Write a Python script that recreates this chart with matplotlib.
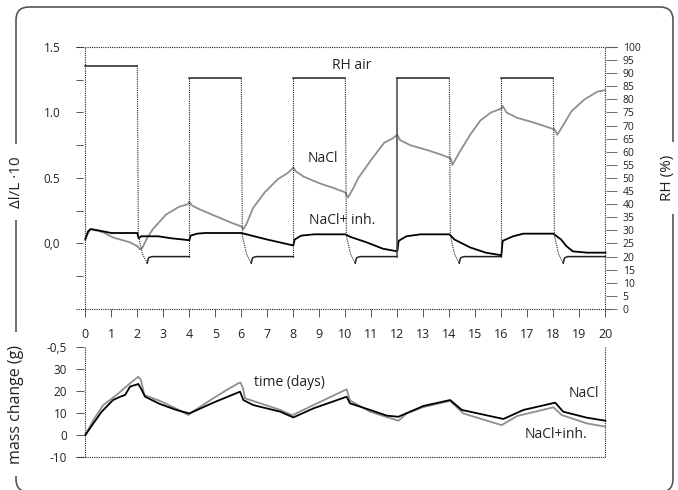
import matplotlib.pyplot as plt
import matplotlib.patches as mpatches
from matplotlib.transforms import IdentityTransform

plt.rcParams['font.family'] = ['Open Sans', 'DejaVu Sans']

# RH air: square wave (days / % RH)
high_start = [0, 4, 8, 12, 16]
high_end = [2, 6, 10, 14, 18]
high_rh = [92.9, 88, 88, 88, 88]
low_rh = 20
up_solid = [False, False, True, False]      # the step at day 12 is drawn solid
drop_dt = [0, 0.04, 0.2, 0.38]              # undershoot after switching to dry air
drop_rh_tail = [28, 21, 17.5]
rec_dt = [0.38, 0.43, 0.55]
rec_rh = [17.5, 19.5, 20]

# dilatation (dl/L * 10), grey = NaCl
nacl_days = [0, 0.2, 0.5, 0.7, 1.08, 1.7, 2.0, 2.1, 2.2, 2.4, 2.6, 3.1, 3.6, 3.95, 4.0,
             4.1, 4.4, 5.0, 5.6, 6.0, 6.08, 6.2, 6.45, 6.9, 7.4, 7.8, 8.0, 8.1, 8.4, 9.0,
             9.6, 10.0, 10.1, 10.3, 10.5, 11.0, 11.5, 11.8, 12.0, 12.1, 12.5, 13.2, 13.8,
             14.05, 14.12, 14.4, 14.8, 15.2, 15.6, 16.0, 16.05, 16.2, 16.6, 17.3, 17.9,
             18.05, 18.15, 18.4, 18.7, 19.2, 19.7, 20.0]
nacl_strain = [0.04, 0.11, 0.095, 0.084, 0.045, 0.01, -0.02, -0.045, -0.03, 0.05, 0.11,
               0.22, 0.28, 0.30, 0.32, 0.29, 0.26, 0.21, 0.16, 0.13, 0.11, 0.15, 0.27, 0.39,
               0.49, 0.54, 0.58, 0.55, 0.51, 0.46, 0.42, 0.39, 0.35, 0.42, 0.50, 0.64, 0.77,
               0.80, 0.83, 0.79, 0.75, 0.71, 0.67, 0.65, 0.60, 0.70, 0.83, 0.94, 1.00, 1.03,
               1.05, 1.00, 0.96, 0.92, 0.88, 0.87, 0.83, 0.91, 1.01, 1.10, 1.16, 1.17]

# black = NaCl + inhibitor
inh_days = [0, 0.1, 0.2, 0.5, 1.0, 2.0, 2.05, 2.15, 2.8, 3.3, 4.0, 4.05, 4.3, 4.6, 6.0,
            6.2, 7.0, 8.0, 8.05, 8.3, 8.8, 10.0, 10.2, 10.8, 11.45, 12.0, 12.05, 12.35,
            12.9, 14.0, 14.2, 14.8, 15.4, 16.0, 16.05, 16.45, 16.85, 18.0, 18.3, 18.5,
            18.75, 19.3, 20.0]
inh_strain = [0.03, 0.09, 0.11, 0.10, 0.08, 0.08, 0.04, 0.055, 0.055, 0.04, 0.025, 0.06,
              0.075, 0.08, 0.08, 0.07, 0.03, -0.015, 0.03, 0.06, 0.07, 0.07, 0.05, 0.01,
              -0.04, -0.06, 0.02, 0.055, 0.07, 0.07, 0.03, -0.03, -0.07, -0.09, 0.02, 0.055,
              0.075, 0.075, 0.03, -0.02, -0.06, -0.07, -0.07]

# mass change (g)
mass_days_a = [0, 0.31, 0.63, 0.95, 1.07, 1.34, 1.53, 1.72, 2.04, 2.17, 2.3, 2.87, 3.5, 4.0,
               4.92, 5.95, 6.08, 6.46, 7.5, 8.0, 8.77, 10.05, 10.18, 10.95, 11.6, 12.04,
               13.0, 14.03, 14.48, 16.08, 16.85, 18.07, 18.38, 19.28, 20]
mass_nacl = [0, 5.3, 10.6, 14.5, 15.9, 17.4, 18.2, 22, 23.2, 20.5, 17.4, 14.1, 11.4, 9.8,
             14.7, 19.7, 15.9, 13.6, 10.6, 8.0, 12.1, 17.4, 14.4, 11.4, 8.8, 8.3, 13.2,
             15.9, 11.4, 7.3, 11.4, 14.7, 10.6, 7.9, 6.5]
mass_days_b = [0, 0.31, 0.69, 1.2, 1.72, 2.04, 2.14, 2.27, 2.87, 3.5, 3.96, 4.05, 4.92, 5.44,
               5.88, 5.97, 6.07, 6.14, 7.5, 7.96, 8.77, 10.0, 10.05, 10.18, 10.95, 12.04,
               12.36, 13.0, 14.03, 14.54, 16.01, 16.6, 18.0, 18.32, 19.28, 20]
mass_inh = [0, 6.8, 13.6, 18.2, 23.5, 26.5, 25, 18.2, 15.5, 12, 9.1, 10, 16.7, 20.5, 23.5,
            23.8, 21, 16.7, 11.4, 9, 13.6, 20.5, 20.8, 15.7, 10.6, 6.5, 9.8, 12.7, 15.5,
            9.8, 4.5, 8.6, 12.6, 9.1, 5.3, 3.8]

day_ticks = list(range(0, 21))
strain_ticks = [-0.25, 0, 0.25, 0.5, 0.75, 1.0, 1.25, 1.5]
strain_labels = ['', '0,0', '', '0.5', '', '1.0', '', '1.5']
rh_ticks = list(range(0, 101, 5))
mass_ticks = [-10, 0, 10, 20, 30, 40]
mass_labels = ['-10', '0', '10', '20', '30', '-0,5']

grey = '#8f8f8f'
txt = '#222222'
dot = dict(color='#222222', lw=0.8, ls=(0, (1, 1)), clip_on=False)
xmin, xmax = -0.35, 20.45

fig = plt.figure(figsize=(6.78, 4.90), dpi=100)

# rounded frame round the whole figure
frame = mpatches.FancyBboxPatch((16, -2), 657, 485, boxstyle='round,pad=0,rounding_size=13',
                                transform=IdentityTransform(), fill=False,
                                edgecolor='#555555', lw=1.2, zorder=1)
fig.add_artist(frame)

# ---- top panel ----
ax1 = fig.add_axes([0.1124, 0.3694, 0.7977, 0.5347])
ax1.set_xlim(xmin, xmax)
ax1.set_ylim(-0.5, 1.5)
for s in ax1.spines.values():
    s.set_visible(False)
ax1.plot([xmin, xmax], [1.5, 1.5], **dot)
ax1.plot([xmin, 20.35], [-0.5, -0.5], **dot)
ax1.plot([0, 0], [-0.5, 1.5], **dot)
ax1.plot([20, 20], [-0.5, 1.5], **dot)

ax1.plot(nacl_days, nacl_strain, color=grey, lw=1.3, zorder=4)
ax1.plot(inh_days, inh_strain, color='black', lw=1.3, zorder=4)

ax1.set_xticks(day_ticks)
ax1.set_xticklabels([str(d) for d in day_ticks])
ax1.tick_params(axis='x', length=6, width=0.7, color='#555555', pad=8,
                labelsize=9, labelcolor=txt)
ax1.set_yticks(strain_ticks)
ax1.set_yticklabels(strain_labels)
ax1.tick_params(axis='y', direction='in', length=5, width=0.7, color='#555555', pad=11.5,
                labelsize=8.5, labelcolor=txt)

ax2 = ax1.twinx()
ax2.set_ylim(0, 100)
for s in ax2.spines.values():
    s.set_visible(False)
ax2.set_yticks(rh_ticks)
ax2.tick_params(axis='y', direction='in', length=8, width=0.6, color='#555555', pad=4,
                labelsize=7.5, labelcolor=txt)

for i in range(len(high_start)):
    ax2.plot([high_start[i], high_end[i]], [high_rh[i], high_rh[i]], color='#222222', lw=1.1)
    t0 = high_end[i]
    ax2.plot([t0 + d for d in drop_dt], [high_rh[i]] + drop_rh_tail, **dot)
    nxt = high_start[i + 1] if i + 1 < len(high_start) else 20
    ax2.plot([t0 + d for d in rec_dt] + [nxt], rec_rh + [low_rh], color='#222222', lw=1.1)
    if i + 1 < len(high_start):
        if up_solid[i]:
            ax2.plot([nxt, nxt], [low_rh, high_rh[i + 1]], color='#444444', lw=1.1)
        else:
            ax2.plot([nxt, nxt], [low_rh, high_rh[i + 1]], **dot)

ax1.text(10.26, 1.36, 'RH air', ha='center', va='center', fontsize=10, color=txt)
ax1.text(9.12, 0.65, 'NaCl', ha='center', va='center', fontsize=10, color=txt)
ax1.text(9.86, 0.175, 'NaCl+ inh.', ha='center', va='center', fontsize=10, color=txt)

# ---- bottom panel ----
ax3 = fig.add_axes([0.1124, 0.0673, 0.7977, 0.2245])
ax3.set_xlim(xmin, xmax)
ax3.set_ylim(-10, 40)
for s in ax3.spines.values():
    s.set_visible(False)
ax3.plot([xmin, 20], [-10, -10], **dot)
ax3.plot([0, 0], [-10, 40], **dot)
ax3.plot([20, 20], [-10, 40], **dot)
ax3.plot(mass_days_b, mass_inh, color=grey, lw=1.3)
ax3.plot(mass_days_a, mass_nacl, color='black', lw=1.3)
ax3.set_xticks([])
ax3.set_yticks(mass_ticks)
ax3.set_yticklabels(mass_labels)
ax3.tick_params(axis='y', direction='in', length=6, width=0.7, color='#555555', pad=6.5,
                labelsize=8.5, labelcolor=txt)

ax3.text(7.86, 24, 'time (days)', ha='center', va='center', fontsize=10, color=txt)
ax3.text(19.76, 19.1, 'NaCl', ha='right', va='center', fontsize=10, color=txt)
ax3.text(18.1, 0.45, 'NaCl+inh.', ha='center', va='center', fontsize=10, color=txt)

# axis titles sitting in the frame line
box = dict(facecolor='white', edgecolor='none', pad=9)
fig.text(16 / 678, 1 - 182 / 490, 'Δl/L ·10', rotation=90, ha='center', va='center',
         fontsize=11, color=txt, bbox=box, zorder=3)
fig.text(16 / 678, 1 - 404 / 490, 'mass change (g)', rotation=90, ha='center', va='center',
         fontsize=11.5, color=txt, bbox=box, zorder=3)
fig.text(667 / 678, 1 - 178 / 490, 'RH (%)', rotation=90, ha='center', va='center',
         fontsize=11, color=txt, bbox=box, zorder=3)

fig.savefig('out.png', dpi=100, facecolor='white')
